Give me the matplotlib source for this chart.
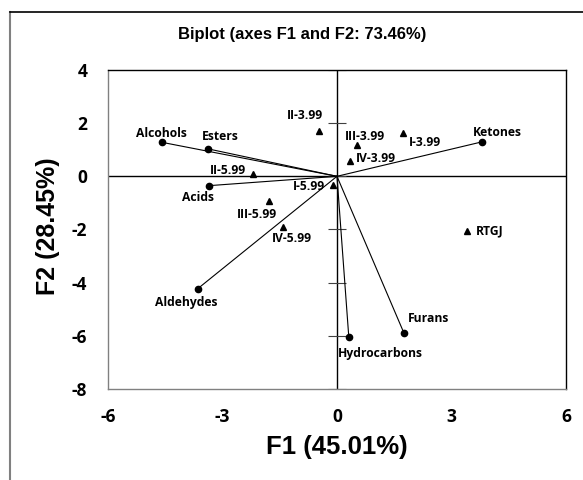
import numpy as np
import matplotlib.pyplot as plt
from matplotlib.lines import Line2D

plt.rcParams['axes.unicode_minus'] = False

# variables (vectors from the origin)
var_names = ['Alcohols', 'Esters', 'Acids', 'Aldehydes', 'Ketones', 'Furans', 'Hydrocarbons']
var_f1 = [-4.59, -3.37, -3.34, -3.65, 3.81, 1.75, 0.31]
var_f2 = [1.28, 1.03, -0.35, -4.23, 1.30, -5.88, -6.05]

# observations
obs_names = ['II-3.99', 'III-3.99', 'I-3.99', 'IV-3.99', 'II-5.99', 'I-5.99',
             'III-5.99', 'IV-5.99', 'RTGJ']
obs_f1 = [-0.46, 0.52, 1.74, 0.33, -2.21, -0.11, -1.78, -1.41, 3.41]
obs_f2 = [1.71, 1.17, 1.62, 0.58, 0.10, -0.34, -0.93, -1.89, -2.04]

xticks = [-6, -3, 0, 3, 6]
yticks = [-8, -6, -4, -2, 0, 2, 4]

# label placement (offset in pixels, alignment)
var_lab = {'Alcohols': (0, 9, 'center'), 'Esters': (12, 12, 'center'),
           'Acids': (-11, -12, 'center'), 'Aldehydes': (-11, -14, 'center'),
           'Ketones': (15, 9, 'center'), 'Furans': (25, 14, 'center'),
           'Hydrocarbons': (32, -16, 'center')}
obs_lab = {'II-3.99': (-14, 15, 'center'), 'III-3.99': (8, 9, 'center'),
           'I-3.99': (5, -9, 'left'), 'IV-3.99': (6, 2, 'left'),
           'II-5.99': (-7, 3, 'right'), 'I-5.99': (-8, -1, 'right'),
           'III-5.99': (-12, -13, 'center'), 'IV-5.99': (9, -12, 'center'),
           'RTGJ': (9, 0, 'left')}

lab_font = dict(family='Open Sans', fontweight='bold', fontsize=8.7)

fig = plt.figure(figsize=(5.83, 4.80), dpi=100)
ax = fig.add_axes([0.1852, 0.1896, 0.9708 - 0.1852, 0.8542 - 0.1896])

ax.axhline(0, color='black', lw=1.0, zorder=1)
ax.axvline(0, color='black', lw=1.0, zorder=1)
# tick marks crossing the vertical axis
ax.plot(np.zeros(len(yticks)), yticks, ls='none', marker='_', ms=13,
        mew=0.8, color='#404040', zorder=1)

for name, x, y in zip(var_names, var_f1, var_f2):
    ax.plot([0, x], [0, y], color='black', lw=0.8, zorder=2)
    ax.plot(x, y, 'o', color='black', ms=4.5, zorder=3)
    dx, dy, ha = var_lab[name]
    ax.annotate(name, (x, y), xytext=(dx, dy), textcoords='offset pixels',
                ha=ha, va='center', **lab_font)

ax.plot(obs_f1, obs_f2, '^', color='black', ms=4.5, ls='none', zorder=3)
for name, x, y in zip(obs_names, obs_f1, obs_f2):
    dx, dy, ha = obs_lab[name]
    ax.annotate(name, (x, y), xytext=(dx, dy), textcoords='offset pixels',
                ha=ha, va='center', **lab_font)

ax.set_xlim(-6, 6)
ax.set_ylim(-8, 4)
ax.set_xticks(xticks)
ax.set_yticks(yticks)
ax.tick_params(length=0)
ax.tick_params(axis='x', pad=14)
ax.tick_params(axis='y', pad=15)
for lab in ax.get_xticklabels() + ax.get_yticklabels():
    lab.set_fontfamily('Open Sans')
    lab.set_fontweight('bold')
    lab.set_fontsize(12.5)

for s in ['top', 'right']:
    ax.spines[s].set_color('black')
for s in ['left', 'bottom']:
    ax.spines[s].set_color('#808080')
for s in ax.spines.values():
    s.set_linewidth(1.0)

ax.set_xlabel('F1 (45.01%)', fontsize=18.5, fontweight='bold',
              family='Liberation Sans')
ax.set_ylabel('F2 (28.45%)', fontsize=18, fontweight='bold',
              family='Liberation Sans')
ax.xaxis.set_label_coords((337 - 108) / 458, -(447 - 389) / 319)
ax.yaxis.set_label_coords(-((108 - 48) / 458), (389 - 226) / 319)
ax.xaxis.label.set_va('center')
ax.yaxis.label.set_va('center')

fig.text(302 / 583, 1 - 35 / 480, 'Biplot (axes F1 and F2: 73.46%)', ha='center',
         va='center', fontsize=12, fontweight='bold', family='Liberation Sans')

# frame around the chart
fig.add_artist(Line2D([10 / 583, 10 / 583], [0, 1 - 12 / 480], color='#808080', lw=1.5))
fig.add_artist(Line2D([10 / 583, 1], [1 - 12 / 480, 1 - 12 / 480], color='black', lw=1.2))

fig.savefig('out.png', dpi=100)
